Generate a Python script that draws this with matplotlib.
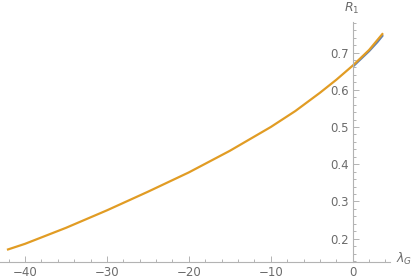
import matplotlib
matplotlib.use("Agg")
import matplotlib.pyplot as plt
from matplotlib.ticker import MultipleLocator

# values
lam_orange = [-42.2, -40, -35, -30, -25, -20, -15, -10, -7, -4, -2, 0, 2, 3.7]
r1_orange = [0.170, 0.186, 0.229, 0.276, 0.326, 0.378, 0.436, 0.500, 0.543,
             0.592, 0.627, 0.665, 0.707, 0.752]
lam_blue = [0, 1, 2, 3, 3.7]
r1_blue = [0.662, 0.683, 0.704, 0.728, 0.747]

x_ticks = [-40, -30, -20, -10, 0]
y_ticks = [0.2, 0.3, 0.4, 0.5, 0.6, 0.7]

AXIS_COL = "#b3b3b3"
TEXT_COL = "#6b6b6b"

W, H = 415, 279
fig = plt.figure(figsize=(W / 100, H / 100), dpi=100)
# axes box in pixel coords: x 0..390, y 21.7..261.7 (from top)
ax = fig.add_axes([0 / W, (H - 261.7) / H, 390 / W, (261.7 - 21.7) / H])

ax.plot(lam_blue, r1_blue, color="#5e81b5", lw=1.6, solid_capstyle="butt")
ax.plot(lam_orange, r1_orange, color="#e19c24", lw=1.6, solid_capstyle="butt")

ax.set_xlim(-43.05, 4.55)
ax.set_ylim(0.138, 0.783)

for s in ["top", "right"]:
    ax.spines[s].set_visible(False)
ax.spines["left"].set_position(("data", 0))
for s in ["left", "bottom"]:
    ax.spines[s].set_color(AXIS_COL)
    ax.spines[s].set_linewidth(0.8)

ax.set_xticks(x_ticks)
ax.set_xticklabels(["\u221240", "\u221230", "\u221220", "\u221210", "0"])
ax.set_yticks(y_ticks)
ax.set_yticklabels([f"{v:.1f}" for v in y_ticks])
ax.xaxis.set_minor_locator(MultipleLocator(2))
ax.yaxis.set_minor_locator(MultipleLocator(0.02))

ax.tick_params(which="both", direction="in", color=AXIS_COL, width=0.7,
               labelcolor=TEXT_COL, labelsize=8.5)
ax.tick_params(which="major", length=4)
ax.tick_params(which="minor", length=2.3)
ax.tick_params(axis="x", pad=3)
ax.tick_params(axis="y", pad=3)

ax.patch.set_alpha(0)

fig.text(352 / W, 1 - 8 / H, "$R_1$", color=TEXT_COL, fontsize=9,
         ha="center", va="center")
fig.text(404 / W, 1 - 259 / H, r"$\lambda_G$", color=TEXT_COL, fontsize=9,
         ha="center", va="center")

fig.savefig("out.png", dpi=100)
